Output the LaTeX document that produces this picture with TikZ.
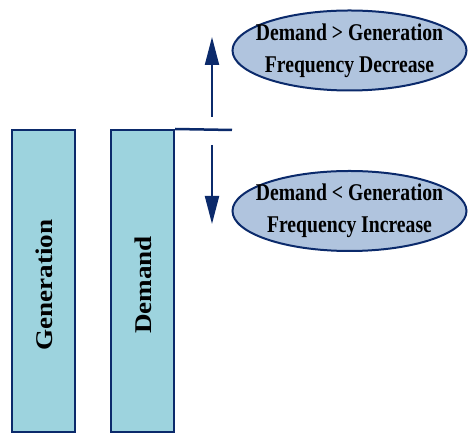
\documentclass[tikz,border=0pt]{standalone}
\usepackage{fontspec}
\setmainfont{Liberation Serif}
\usetikzlibrary{positioning,shapes.geometric,arrows.meta}
\definecolor{navy}{HTML}{0B2A6B}
\definecolor{barblue}{HTML}{9DD3DE}
\definecolor{ellblue}{HTML}{B0C4DE}
\newcommand{\squeezetext}[1]{\scalebox{0.82}[1]{#1}}
\newcommand{\stretchtext}[1]{\scalebox{1.13}[1]{#1}}
\tikzset{
  bar/.style={draw=navy, fill=barblue, line width=2pt, minimum width=63pt, minimum height=302pt, inner sep=0pt},
  barlabel/.style={rotate=90, font=\bfseries\fontsize{24}{26}\selectfont},
  state/.style={ellipse, draw=navy, fill=ellblue, line width=2pt, minimum width=234pt, minimum height=80pt, inner sep=0pt},
  statelabel/.style={align=center, inner sep=0pt, font=\bfseries\fontsize{24}{32}\selectfont},
  flow/.style={draw=navy, line width=2pt, -{Triangle[width=14pt,length=28pt]}}
}
\begin{document}
\begin{tikzpicture}[x=1pt,y=1pt]
            \useasboundingbox (0,0) rectangle (469,433);
            \node [bar] (gen) at (43.5,152) {};
            \node [bar] (dem) at (142.5,152) {};
            \node [barlabel] (genlabel) at (44,148) {\stretchtext{Generation}};
            \node [barlabel] (demlabel) at (143,148) {\stretchtext{Demand}};
            \coordinate (lineend) at (232,303);
            \draw [navy, line width=2.5pt] (dem.north east) -- (lineend);
            \node [state] (dec) at (349.5,382.5) {};
            \node [statelabel] (declabel) at (dec) {\squeezetext{Demand > Generation}\\ \squeezetext{Frequency Decrease}};
            \node [state] (inc) at (349.5,222) {};
            \node [statelabel] (inclabel) at (inc) {\squeezetext{Demand < Generation}\\ \squeezetext{Frequency Increase}};
            \coordinate (upfrom) at (212,316);
            \coordinate (upto) at (212,396);
            \coordinate (downfrom) at (212,288);
            \coordinate (downto) at (212,209);
            \draw [flow] (upfrom) -- (upto);
            \draw [flow] (downfrom) -- (downto);
        \end{tikzpicture}
\end{document}
